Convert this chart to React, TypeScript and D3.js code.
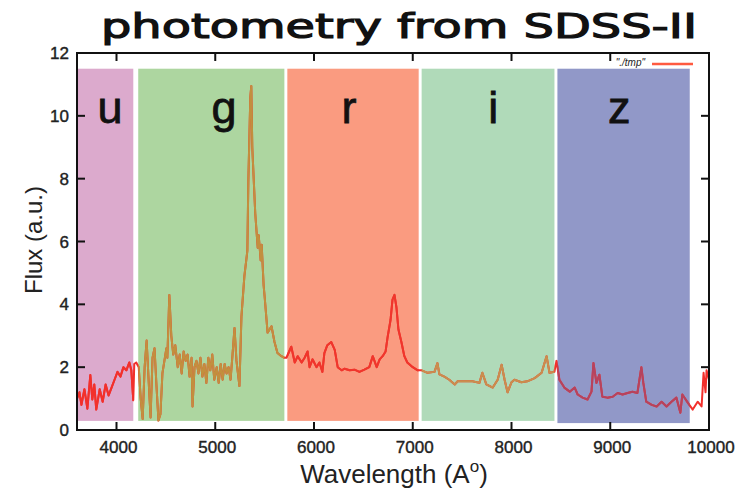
import React, { useRef, useEffect } from 'react';
import * as d3 from 'd3';

// spectrum: wavelength (Å) and flux (a.u.)
const wavelength = [
  3600, 3625, 3645, 3675, 3705, 3735, 3755, 3775, 3795, 3830, 3860, 3890, 3920, 3950, 3980, 4010,
  4040, 4070, 4100, 4130, 4150, 4170, 4180, 4200,
  4225, 4245, 4265, 4285, 4305, 4325, 4345, 4365, 4385, 4405, 4425, 4445, 4465, 4485, 4505, 4515,
  4535, 4555, 4575, 4595, 4620, 4640, 4660, 4680, 4700, 4720, 4740, 4760, 4770, 4790, 4810, 4830,
  4850, 4870, 4890, 4910, 4930, 4950, 4970, 4990, 5015, 5035, 5055, 5075, 5095, 5115, 5135, 5155,
  5175, 5195, 5215, 5245, 5265, 5295, 5325, 5335, 5355, 5365, 5375, 5405, 5430, 5440, 5460, 5470,
  5490, 5500, 5530, 5570, 5600, 5630, 5670, 5700,
  5720, 5770, 5805, 5835, 5875, 5905, 5935, 5955, 5985, 6025, 6055, 6085, 6105, 6135, 6175, 6210,
  6240, 6280, 6310, 6360, 6410, 6460, 6510, 6560, 6595, 6635, 6665, 6695, 6725, 6745, 6775, 6795,
  6815, 6835, 6855, 6885, 6915, 6945, 7000, 7050, 7090,
  7150, 7220, 7250, 7270, 7320, 7370, 7425, 7455, 7525, 7605, 7675, 7705, 7745, 7810, 7860, 7900,
  7930, 7960, 8000, 8030, 8100, 8160, 8235, 8305, 8355, 8385, 8435, 8455,
  8485, 8535, 8590, 8640, 8670, 8720, 8770, 8810, 8830, 8860, 8890, 8920, 8970, 9025, 9075, 9125,
  9175, 9225, 9275, 9315, 9335, 9365, 9420, 9470, 9520, 9570, 9620, 9670, 9710, 9730, 9785, 9835,
  9885, 9925, 9945, 9965, 9975, 10000,
];
const flux = [
  1.0, 1.2, 0.8, 1.3, 0.68, 1.75, 0.97, 1.45, 0.65, 1.3, 0.9, 1.45, 1.1, 1.35, 1.6, 1.85,
  1.7, 2.0, 1.9, 2.15, 1.9, 0.95, 2.1, 2.15,
  2.0, 1.0, 0.35, 2.0, 2.85, 1.6, 0.4, 2.3, 2.6, 1.4, 0.3, 0.5, 1.8, 2.2, 2.6, 2.3,
  4.3, 3.0, 2.4, 2.7, 2.0, 2.4, 1.8, 2.5, 2.2, 2.4, 1.7, 2.3, 0.75, 2.0, 2.2, 1.8,
  2.3, 1.7, 2.1, 1.5, 2.3, 1.9, 2.4, 1.6, 2.0, 1.5, 2.1, 1.6, 2.1, 1.8, 2.0, 1.6,
  2.4, 3.25, 2.2, 1.4, 3.6, 4.9, 5.7, 7.9, 10.6, 10.95, 9.0, 6.9, 5.8, 6.2, 5.4, 5.9,
  4.6, 4.25, 3.1, 3.3, 2.8, 2.45, 2.35, 2.3,
  2.3, 2.65, 2.15, 2.35, 2.15, 2.3, 2.5, 2.0, 2.25, 2.0, 2.15, 1.85, 2.45, 2.7, 2.8, 2.55,
  2.0, 1.9, 1.95, 1.9, 1.92, 1.85, 1.92, 2.0, 2.35, 2.0, 2.25, 2.35, 2.5, 2.95, 3.5, 4.15,
  4.3, 3.9, 3.2, 2.8, 2.35, 2.15, 2.0, 1.9, 1.9,
  1.82, 1.85, 2.13, 1.77, 1.7, 1.6, 1.45, 1.55, 1.55, 1.55, 1.5, 1.82, 1.45, 1.35, 1.6, 2.08,
  1.6, 1.2, 1.52, 1.6, 1.52, 1.55, 1.65, 1.82, 2.35, 1.82, 1.85, 2.2,
  1.6, 1.35, 1.22, 1.35, 1.13, 1.03, 0.97, 1.22, 2.13, 1.5, 1.76, 1.06, 1.03, 1.06, 1.18, 1.13,
  1.18, 1.22, 1.18, 2.0, 1.5, 0.9, 0.8, 0.75, 0.9, 0.75, 0.9, 1.03, 0.55, 1.13, 0.87, 0.65,
  0.9, 0.75, 1.82, 1.2, 1.9, 1.6,
];

// SDSS filter bands
const bandNames = ['u', 'g', 'r', 'i', 'z'];
const bandStart = [3600, 4220, 5730, 7090, 8465];
const bandEnd = [4170, 5700, 7060, 8435, 9805];
const bandTop = [11.5, 11.5, 11.5, 11.5, 11.5];
const bandBottom = [0.29, 0.29, 0.29, 0.29, 0.22];
const bandFill = ['#dcaacd', '#add6a0', '#fa9b80', '#b0dab9', '#9198c8'];
const bandLine = ['#f2302c', '#c28f3e', '#f0362c', '#c98f4e', '#b5435e'];
const bandLabelAt = [3935, 5090, 6355, 7815, 9090];

const xTicks = [4000, 5000, 6000, 7000, 8000, 9000, 10000];
const yTicks = [0, 2, 4, 6, 8, 10, 12];

const App = () => {
  const svgRef = useRef(null);

  useEffect(() => {
    const svg = d3.select(svgRef.current);
    svg.selectAll('*').remove();

    const width = 738;
    const height = 494;
    const font = '"Liberation Sans", Arial, sans-serif';

    const x = d3.scaleLinear().domain([3600, 10000]).range([77, 709]);
    const y = d3.scaleLinear().domain([0, 12]).range([430, 53]);

    svg.attr('width', width).attr('height', height);

    const defs = svg.append('defs');
    defs.append('clipPath').attr('id', 'plot-clip')
      .append('rect')
      .attr('x', x(3600)).attr('y', y(12))
      .attr('width', x(10000) - x(3600)).attr('height', y(0) - y(12));

    bandNames.forEach((b, i) => {
      defs.append('clipPath').attr('id', `clip-${b}`)
        .append('rect')
        .attr('x', x(bandStart[i])).attr('y', y(12))
        .attr('width', x(bandEnd[i]) - x(bandStart[i]))
        .attr('height', y(0) - y(12));
    });

    // bands
    svg.append('g')
      .selectAll('rect')
      .data(bandNames)
      .join('rect')
      .attr('x', (d, i) => x(bandStart[i]))
      .attr('y', (d, i) => y(bandTop[i]))
      .attr('width', (d, i) => x(bandEnd[i]) - x(bandStart[i]))
      .attr('height', (d, i) => y(bandBottom[i]) - y(bandTop[i]))
      .attr('fill', (d, i) => bandFill[i]);

    svg.append('g')
      .selectAll('text')
      .data(bandNames)
      .join('text')
      .attr('x', (d, i) => x(bandLabelAt[i]))
      .attr('y', y(9.78))
      .attr('text-anchor', 'middle')
      .attr('font-family', font)
      .attr('font-size', 45)
      .attr('fill', '#111')
      .attr('stroke', '#111').attr('stroke-width', 0.8)
      .text(d => d);

    // spectrum
    const pts = wavelength.map((w, i) => [w, flux[i]]);
    const line = d3.line().x(d => x(d[0])).y(d => y(d[1]));

    svg.append('path')
      .datum(pts)
      .attr('clip-path', 'url(#plot-clip)')
      .attr('fill', 'none')
      .attr('stroke', '#f2302c')
      .attr('stroke-width', 2)
      .attr('stroke-linejoin', 'round')
      .attr('d', line);

    bandNames.forEach((b, i) => {
      svg.append('path')
        .datum(pts)
        .attr('clip-path', `url(#clip-${b})`)
        .attr('fill', 'none')
        .attr('stroke', bandLine[i])
        .attr('stroke-width', 2)
        .attr('stroke-linejoin', 'round')
        .attr('d', line);
    });

    // frame and inward ticks
    svg.append('rect')
      .attr('x', x(3600)).attr('y', y(12))
      .attr('width', x(10000) - x(3600)).attr('height', y(0) - y(12))
      .attr('fill', 'none').attr('stroke', '#111').attr('stroke-width', 2);

    const tickLen = 8;
    const ticks = svg.append('g').attr('stroke', '#111').attr('stroke-width', 2);
    xTicks.forEach(t => {
      ticks.append('line').attr('x1', x(t)).attr('x2', x(t)).attr('y1', y(0)).attr('y2', y(0) - tickLen);
      ticks.append('line').attr('x1', x(t)).attr('x2', x(t)).attr('y1', y(12)).attr('y2', y(12) + tickLen);
    });
    yTicks.forEach(t => {
      ticks.append('line').attr('x1', x(3600)).attr('x2', x(3600) + tickLen).attr('y1', y(t)).attr('y2', y(t));
      ticks.append('line').attr('x1', x(10000)).attr('x2', x(10000) - tickLen).attr('y1', y(t)).attr('y2', y(t));
    });

    svg.append('g')
      .selectAll('text')
      .data(xTicks)
      .join('text')
      .attr('x', d => x(d) + 2)
      .attr('y', 453)
      .attr('text-anchor', 'middle')
      .attr('font-family', font)
      .attr('font-size', 17)
      .attr('fill', '#222')
      .attr('stroke', '#222').attr('stroke-width', 0.4)
      .text(d => d);

    svg.append('g')
      .selectAll('text')
      .data(yTicks)
      .join('text')
      .attr('x', 69)
      .attr('y', d => y(d) + 6)
      .attr('text-anchor', 'end')
      .attr('font-family', font)
      .attr('font-size', 17)
      .attr('fill', '#222')
      .attr('stroke', '#222').attr('stroke-width', 0.4)
      .text(d => d);

    // axis titles
    svg.append('text')
      .attr('transform', 'translate(42, 240) rotate(-90)')
      .attr('text-anchor', 'middle')
      .attr('font-family', font)
      .attr('font-size', 24)
      .attr('fill', '#222')
      .text('Flux (a.u.)');

    const xl = svg.append('text')
      .attr('x', 394)
      .attr('y', 483)
      .attr('text-anchor', 'middle')
      .attr('font-family', font)
      .attr('font-size', 26)
      .attr('fill', '#222');
    xl.append('tspan').text('Wavelength (A');
    xl.append('tspan').attr('font-size', 17).attr('dy', -11).text('o');
    xl.append('tspan').attr('dy', 11).text(')');

    // legend
    svg.append('text')
      .attr('x', 645)
      .attr('y', 66)
      .attr('text-anchor', 'end')
      .attr('font-family', font)
      .attr('font-style', 'italic')
      .attr('font-size', 10)
      .attr('fill', '#222')
      .text('"./tmp"');
    svg.append('line')
      .attr('x1', 652).attr('x2', 693).attr('y1', 64).attr('y2', 64)
      .attr('stroke', '#ff5a40').attr('stroke-width', 2.5);

    // title
    svg.append('text')
      .attr('x', 399)
      .attr('y', 38)
      .attr('text-anchor', 'middle')
      .attr('font-family', '"DejaVu Sans", sans-serif')
      .attr('font-size', 34)
      .attr('textLength', 596)
      .attr('lengthAdjust', 'spacingAndGlyphs')
      .attr('fill', '#111')
      .attr('stroke', '#111').attr('stroke-width', 1.2)
      .text('photometry from SDSS-II');
  }, []);

  return <svg ref={svgRef} style={{ position: 'absolute', left: 0, top: 0 }}></svg>;
};

export default App;
